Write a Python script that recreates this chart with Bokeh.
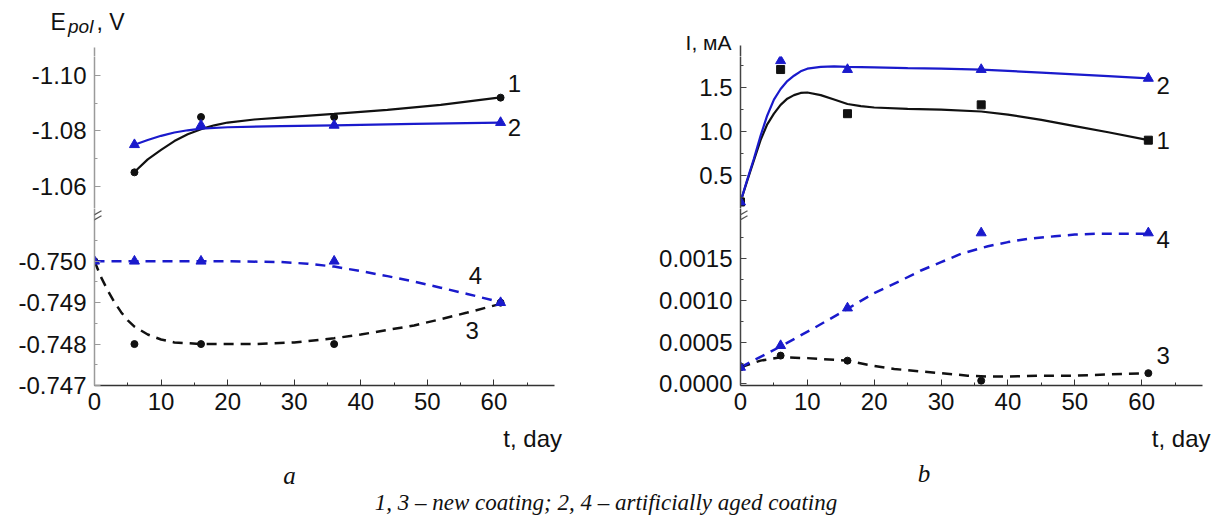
from bokeh.plotting import figure
from bokeh.layouts import row, column
from bokeh.models import Range1d, FixedTicker, Label, Arrow, PrintfTickFormatter
from bokeh.embed import file_html
from bokeh.resources import INLINE

# ---------------- panel a : polarisation potential ----------------
t_a = [6, 16, 36, 61]
E1 = [-1.065, -1.085, -1.085, -1.092]
E2 = [-1.075, -1.082, -1.082, -1.083]
E1_fit_t = [6, 8, 10, 12, 14, 16, 18, 20, 24, 28, 36, 44, 52, 61]
E1_fit = [-1.0651, -1.0697, -1.0731, -1.0763, -1.0788, -1.0806, -1.0820, -1.0830,
          -1.0841, -1.0848, -1.0861, -1.0876, -1.0894, -1.0921]
E2_fit_t = [6, 8, 10, 12, 14, 16, 20, 28, 36, 48, 61]
E2_fit = [-1.0750, -1.0767, -1.0782, -1.0794, -1.0802, -1.0808, -1.0813, -1.0817,
          -1.0820, -1.0825, -1.0830]
t_a0 = [0, 6, 16, 36, 61]
E3 = [-0.750, -0.748, -0.748, -0.748, -0.749]
E4 = [-0.750, -0.750, -0.750, -0.750, -0.749]
E3_fit_t = [0, 1, 2, 3, 4, 5, 6, 8, 10, 12, 16, 24, 30, 36, 40, 44, 48, 52, 56, 61]
E3_fit = [-0.75, -0.74961, -0.74929, -0.74901, -0.74877, -0.74857, -0.74842, -0.74823,
          -0.74811, -0.74804, -0.748, -0.748, -0.74804, -0.74814, -0.74823, -0.74834,
          -0.74845, -0.7486, -0.74876, -0.74897]
E4_fit_t = [0, 10, 20, 28, 32, 36, 40, 44, 48, 52, 56, 61]
E4_fit = [-0.75, -0.75, -0.75, -0.74998, -0.74994, -0.74987, -0.74976, -0.74964,
          -0.74951, -0.74936, -0.74921, -0.74901]

# ---------------- panel b : current ----------------
t_b = [0, 6, 16, 36, 61]
I1 = [0.20, 1.70, 1.20, 1.30, 0.90]
I2 = [0.20, 1.80, 1.70, 1.70, 1.60]
I1_fit_t = [0, 1, 2, 3, 4, 5, 6, 7, 8, 9, 10, 12, 14, 16, 18, 20, 25, 30, 36, 40, 45, 50, 55, 61]
I1_fit = [0.20, 0.44, 0.67, 0.90, 1.08, 1.20, 1.30, 1.37, 1.41, 1.435, 1.44, 1.41, 1.36,
          1.31, 1.285, 1.27, 1.255, 1.245, 1.225, 1.19, 1.13, 1.06, 0.99, 0.90]
I2_fit_t = [0, 1, 2, 3, 4, 5, 6, 7, 8, 9, 10, 12, 14, 16, 20, 25, 30, 36, 40, 45, 50, 55, 61]
I2_fit = [0.20, 0.45, 0.69, 0.95, 1.18, 1.36, 1.48, 1.57, 1.63, 1.68, 1.71, 1.73, 1.735,
          1.73, 1.725, 1.715, 1.71, 1.70, 1.685, 1.665, 1.645, 1.625, 1.60]
I3 = [0.00020, 0.00034, 0.00028, 0.00004, 0.00013]
I4 = [0.00020, 0.00046, 0.00091, 0.00181, 0.00181]
I3_fit_t = [0, 3, 6, 10, 16, 19, 23, 27, 30, 34, 37, 40, 45, 50, 57, 61]
I3_fit = [0.0002, 0.00028, 0.00032, 0.00031, 0.00028, 0.00023, 0.00018, 0.00015, 0.00013,
          0.0001, 0.00009, 0.00009, 0.0001, 0.0001, 0.00012, 0.00013]
I4_fit_t = [0, 6, 11, 16, 20, 24, 27, 30, 33, 37, 40, 43, 47, 50, 53, 57, 61]
I4_fit = [0.0002, 0.00045, 0.00067, 0.0009, 0.00109, 0.00124, 0.00136, 0.00146, 0.00156,
          0.00165, 0.0017, 0.00174, 0.00177, 0.00179, 0.0018, 0.0018, 0.0018]

# ticks / texts
x_ticks = [0, 10, 20, 30, 40, 50, 60]
x_minor = [5, 15, 25, 35, 45, 55, 65]
ya_up_ticks = [-1.10, -1.08, -1.06]
ya_up_minor = [-1.09, -1.07]
ya_lo_ticks = [-0.750, -0.749, -0.748, -0.747]
ya_lo_minor = [-0.7505, -0.7495, -0.7485, -0.7475]
yb_up_ticks = [0.5, 1.0, 1.5]
yb_up_minor = [0.25, 0.75, 1.25, 1.75]
yb_lo_ticks = [0.0, 0.0005, 0.0010, 0.0015]
yb_lo_minor = [0.00025, 0.00075, 0.00125, 0.00175]
caption = "1, 3 \u2013 new coating; 2, 4 \u2013 artificially aged coating"
x_title = "t, day"
ya_title = ("E", "pol", ", V")
yb_title = "I, \u043c\u0410"

BLACK = "#111111"
BLUE = "#1a1acc"
GREY_AX = "#9a9a9a"
DARK_AX = "#444444"
SANS = "Liberation Sans"
SERIF = "Liberation Serif"
TICK_FS = "24px"
NUM_FS = "24px"
LW = 2.2
DASH = "10 7"

W_TOTAL = 1214
W_LEFT = 640
TOP_H = 56
X_END = 69.1
# frame geometry in page px: (left, right, top, bottom, x0, x1, ybottom, ytop)
G_AU = (94, 554, TOP_H, 208, 0, X_END, -1.05194, -1.10686)
G_AL = (94, 554, 208, 385, 0, X_END, -0.747, -0.751272)
G_BU = (740, 1202, TOP_H, 208, 0, X_END, 0.1263, 1.8477)
G_BL = (740, 1202, 208, 385, 0, X_END, -0.000018, 0.0021026)
BOTTOM_BORDER = 40
BOT_TOP, BOT_BOTTOM = 425, 518
Y_FIX = 2  # measured offset of rendered "middle" text


def at(g, X, Y):
    """page pixel -> data coordinates of figure g"""
    L, R, T, B, x0, x1, y0, y1 = g
    return (x0 + (X - L) / (R - L) * (x1 - x0), y0 + (B - Y) / (B - T) * (y1 - y0))


def make_fig(g, col_left, col_width, bottom_border, xr, show_x, ticks, minor, fmt, ycolor):
    L, R, T, B, x0, x1, y0, y1 = g
    p = figure(width=col_width, height=(B - T) + bottom_border,
               x_range=xr, y_range=Range1d(y0, y1),
               x_axis_location="below" if show_x else None,
               output_backend="svg", toolbar_location=None,
               min_border_left=L - col_left, min_border_right=col_left + col_width - R,
               min_border_top=0, min_border_bottom=bottom_border)
    p.outline_line_color = None
    p.grid.visible = False
    p.background_fill_color = "white"
    p.border_fill_color = "white"
    axes = list(p.yaxis) + (list(p.xaxis) if show_x else [])
    for ax in axes:
        ax.axis_line_width = 1.5
        ax.major_tick_in = 6
        ax.major_tick_out = 0
        ax.minor_tick_in = 3
        ax.minor_tick_out = 0
        ax.major_label_text_font = SANS
        ax.major_label_text_font_size = TICK_FS
        ax.major_label_text_color = BLACK
    for ax in p.yaxis:
        ax.ticker = FixedTicker(ticks=ticks, minor_ticks=minor)
        ax.formatter = PrintfTickFormatter(format=fmt)
        ax.axis_line_color = ycolor
        ax.major_tick_line_color = ycolor
        ax.minor_tick_line_color = ycolor
        ax.major_label_standoff = 8
    if show_x:
        for ax in p.xaxis:
            ax.ticker = FixedTicker(ticks=x_ticks, minor_ticks=x_minor)
            ax.axis_line_color = "#333333"
            ax.major_tick_line_color = "#333333"
            ax.minor_tick_line_color = "#333333"
            ax.major_label_standoff = 7
    return p


def text_fig(y_top, y_bottom):
    # a plain full-width text strip whose data units are page pixels
    p = figure(width=W_TOTAL, height=y_bottom - y_top, x_range=Range1d(0, W_TOTAL),
               y_range=Range1d(y_bottom, y_top), x_axis_type=None, y_axis_type=None,
               output_backend="svg", toolbar_location=None, min_border=0)
    p.outline_line_color = None
    p.background_fill_color = "white"
    p.border_fill_color = "white"
    return p


def put(p, s, x, y, size=NUM_FS, font=SANS, style="normal", align="center"):
    p.add_layout(Label(x=x, y=y, text=s, text_font=font, text_font_size=size,
                       text_font_style=style, text_align=align, text_baseline="middle",
                       text_color=BLACK))


def put_base(p, s, x, base, size_px, **kw):
    # place a text by the page y of its baseline (strips only: data y = page y)
    put(p, s, x, base - 0.35 * size_px - Y_FIX, size="%dpx" % size_px, **kw)


def text(p, g, s, X, Y, **kw):
    x, y = at(g, X, Y - Y_FIX)
    put(p, s, x, y, **kw)


def brk(p, g, X, Y):
    for yc in (Y - 2.5, Y + 2.5):
        xs, ys = at(g, X - 6, yc + 3.5)
        xe, ye = at(g, X + 7, yc - 4)
        p.add_layout(Arrow(end=None, x_start=xs, y_start=ys, x_end=xe, y_end=ye,
                           line_color="#555555", line_width=1.3))


xr_a = Range1d(0, X_END)
xr_b = Range1d(0, X_END)

# ---- top strip: axis titles and the top ends of the y axes ----
top = text_fig(0, TOP_H)
top.segment(x0=[G_AU[0]], y0=[47], x1=[G_AU[0]], y1=[TOP_H], line_color=GREY_AX, line_width=1.5)
top.segment(x0=[G_BU[0]], y0=[45], x1=[G_BU[0]], y1=[TOP_H], line_color=DARK_AX, line_width=1.5)
put_base(top, ya_title[0], 50, 31.7, 23, align="left")
put_base(top, ya_title[1], 67.5, 34.5, 19, style="italic", align="left")
put_base(top, ya_title[2], 96, 31.7, 23, align="left")
put_base(top, yb_title, 731, 51, 21, align="right")

# ---- panel a upper ----
au = make_fig(G_AU, 0, W_LEFT, 0, xr_a, False, ya_up_ticks, ya_up_minor, "%.2f", GREY_AX)
au.line(E1_fit_t, E1_fit, line_color=BLACK, line_width=LW)
au.line(E2_fit_t, E2_fit, line_color=BLUE, line_width=LW)
au.scatter(t_a, E1, marker="circle", size=7, color=BLACK)
au.scatter(t_a, E2, marker="triangle", size=10, color=BLUE)
text(au, G_AU, "1", 514, 85)
text(au, G_AU, "2", 514, 129)

# ---- panel a lower ----
al = make_fig(G_AL, 0, W_LEFT, BOTTOM_BORDER, xr_a, True, ya_lo_ticks, ya_lo_minor, "%.3f", GREY_AX)
al.line(E3_fit_t, E3_fit, line_color=BLACK, line_width=2.5, line_dash=DASH)
al.line(E4_fit_t, E4_fit, line_color=BLUE, line_width=2.5, line_dash=DASH)
al.scatter(t_a0, E3, marker="circle", size=7, color=BLACK)
al.scatter(t_a0, E4, marker="triangle", size=10, color=BLUE)
text(al, G_AL, "4", 475, 276.7)
text(al, G_AL, "3", 471.7, 331.7)
brk(al, G_AL, G_AL[0], 216.7)

# ---- panel b upper ----
bu = make_fig(G_BU, W_LEFT, W_TOTAL - W_LEFT, 0, xr_b, False, yb_up_ticks, yb_up_minor, "%.1f", DARK_AX)
bu.line(I1_fit_t, I1_fit, line_color=BLACK, line_width=LW)
bu.line(I2_fit_t, I2_fit, line_color=BLUE, line_width=LW)
bu.scatter(t_b, I1, marker="square", size=8, color=BLACK)
bu.scatter(t_b, I2, marker="triangle", size=10, color=BLUE)
text(bu, G_BU, "2", 1162.7, 86.7)
text(bu, G_BU, "1", 1162.7, 141.7)

# ---- panel b lower ----
bl = make_fig(G_BL, W_LEFT, W_TOTAL - W_LEFT, BOTTOM_BORDER, xr_b, True, yb_lo_ticks, yb_lo_minor, "%.4f", DARK_AX)
bl.line(I3_fit_t, I3_fit, line_color=BLACK, line_width=2.5, line_dash=DASH)
bl.line(I4_fit_t, I4_fit, line_color=BLUE, line_width=2.5, line_dash=DASH)
bl.scatter(t_b, I3, marker="circle", size=7, color=BLACK)
bl.scatter(t_b, I4, marker="triangle", size=10, color=BLUE)
text(bl, G_BL, "4", 1162.7, 240.7)
text(bl, G_BL, "3", 1162.7, 356.7)
brk(bl, G_BL, G_BL[0], 216.7)

# ---- bottom strip: x titles, panel letters, caption ----
bot = text_fig(BOT_TOP, BOT_BOTTOM)
put_base(bot, x_title, 561.5, 448, 24, align="right")
put_base(bot, x_title, 1210, 448, 24, align="right")
put(bot, "a", 289, 476.7 - Y_FIX, size="25px", font=SERIF, style="italic")
put(bot, "b", 923.5, 475 - Y_FIX, size="25px", font=SERIF, style="italic")
put_base(bot, caption, 605.5, 512.5, 23, font=SERIF, style="italic")

layout = column(top, row(column(au, al), column(bu, bl)), bot)
open("out.html", "w").write(file_html(layout, INLINE))
